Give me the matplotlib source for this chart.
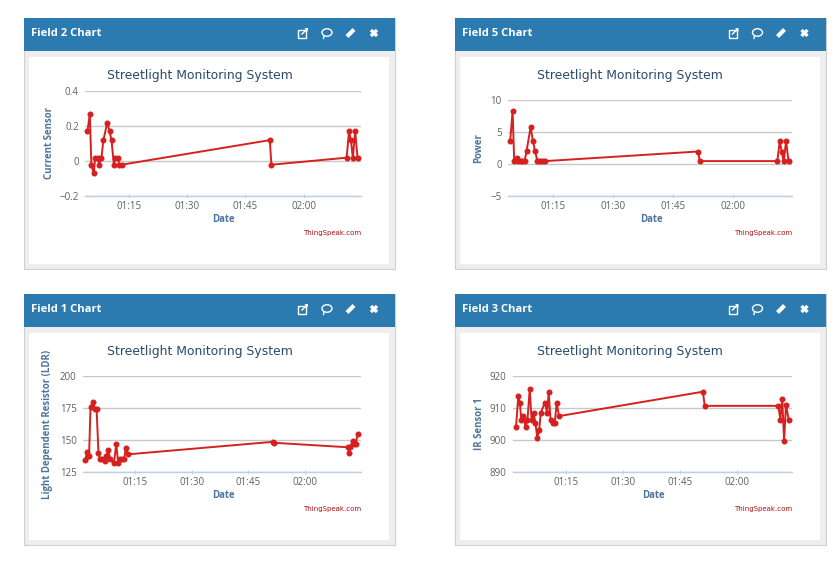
#!/usr/bin/env python3

import matplotlib
matplotlib.use("Agg")
import matplotlib.pyplot as plt
from matplotlib.patches import Rectangle, Ellipse, Polygon

W, H = 840, 564

# minutes after midnight
time_current = [64.3, 64.9, 65.3, 65.9, 66.3, 66.9, 67.3, 67.9, 68.4, 69.4, 70.0, 70.5, 71.1,
                71.5, 72.1, 72.5, 73.1, 111.3, 111.7, 131.1, 131.7, 132.2, 132.7, 133.3, 133.9]
current = [0.17, 0.27, -0.02, -0.07, 0.02, 0.02, -0.02, 0.02, 0.12, 0.22, 0.17, 0.12, -0.02,
           0.02, 0.02, -0.02, -0.02, 0.12, -0.02, 0.02, 0.17, 0.12, 0.02, 0.17, 0.02]
power = [3.6, 8.4, 0.5, 1.0, 0.5, 0.5, 0.5, 0.5, 2.1, 5.8, 3.6, 2.1, 0.5,
         0.5, 0.5, 0.5, 0.5, 2.0, 0.5, 0.5, 3.6, 2.0, 0.5, 3.6, 0.5]

time_ldr = [61.8, 62.3, 62.6, 62.8, 63.2, 63.9, 64.4, 64.8, 65.3, 65.7, 66.3, 66.9, 67.4, 67.9,
            68.4, 69.4, 70.0, 70.5, 71.0, 71.6, 72.1, 72.5, 73.1, 111.4, 111.7, 131.3, 131.6,
            131.9, 132.6, 133.0, 133.4, 133.9]
ldr = [134.9, 141, 138, 138, 176, 179.4, 174, 174, 140, 135, 135, 133.6, 138, 142.7,
       135, 132.5, 147, 132.5, 135, 135, 135, 143.7, 139, 148.7, 148, 144.5, 140,
       144.8, 149, 147, 147, 154.6]

time_ir = [61.9, 62.5, 62.9, 63.3, 63.8, 64.4, 64.9, 65.5, 66.0, 66.5, 67.0, 67.5, 68.0, 68.4,
           69.5, 70.1, 70.5, 71.0, 71.6, 72.1, 72.6, 73.2, 111.1, 111.6, 131.0, 131.5, 132.0,
           132.5, 133.0, 133.7]
ir = [904.2, 913.8, 911.7, 906.2, 907.5, 904.2, 906.2, 916, 906.2, 908.5, 905.3, 900.8, 903.1, 908.5,
      911.7, 908.5, 915, 906.2, 905.3, 905.3, 911.7, 907.5, 915.1, 910.7, 910.7, 906.4, 912.9,
      899.9, 911, 906.4]

time_ticks = [75, 90, 105, 120]
time_labels = ["01:15", "01:30", "01:45", "02:00"]


def axes_box(left, right, top, bottom):
    return [left / W, 1 - bottom / H, (right - left) / W, (bottom - top) / H]


def panel_frame(bg, x0, y0, name):
    # card, blue header, white body, in pixel coordinates
    bg.add_patch(Rectangle((x0, y0), 371, 250.5, fc="#eeeeee", ec="#cfcfcf", lw=0.8))
    bg.add_patch(Rectangle((x0 + 5, y0 + 38.5), 360, 207.5, fc="white", ec="none"))
    bg.add_patch(Rectangle((x0, y0), 371, 33, fc="#2c7bb0", ec="none"))
    bg.text(x0 + 7, y0 + 15.5, name, color="white", fontsize=8.1, fontweight="bold",
            family="Open Sans", ha="left", va="center")

    # header icons
    cy = y0 + 15
    ix = x0 + 278
    bg.add_patch(Rectangle((ix - 4, cy - 3.5), 8, 8, fc="none", ec="white", lw=1))
    bg.add_patch(Polygon([[ix - 1, cy + 1], [ix + 4, cy - 4], [ix + 2, cy - 5], [ix + 6, cy - 5],
                          [ix + 6, cy - 1], [ix + 5, cy - 3], [ix, cy + 2]], fc="white", ec="none"))
    bg.add_patch(Ellipse((x0 + 303, cy - 0.5), 10, 7.5, fc="none", ec="white", lw=1))
    bg.plot([x0 + 300, x0 + 299.5], [cy + 3, cy + 5.5], color="white", lw=1)
    bg.plot([x0 + 323, x0 + 330], [cy + 3.5, cy - 3.5], color="white", lw=3, solid_capstyle="butt")
    bg.plot([x0 + 347, x0 + 353], [cy - 3, cy + 3], color="white", lw=2.4, solid_capstyle="butt")
    bg.plot([x0 + 347, x0 + 353], [cy + 3, cy - 3], color="white", lw=2.4, solid_capstyle="butt")


def draw_chart(fig, bg, box, xlim, ylim, yticks, ylabels, xs, ys, ylabel, label_x, label_y,
               title_x, title_y, date_x, date_y, credit_y):
    ax = fig.add_axes(axes_box(*box))
    ax.patch.set_alpha(0)
    ax.plot(xs, ys, color="#d62020", lw=1.4, marker="o", ms=3.3, mec="#d62020", clip_on=False, zorder=3)
    ax.set_xlim(*xlim)
    ax.set_ylim(*ylim)
    ax.set_xticks(time_ticks, time_labels, family="Open Sans")
    ax.set_yticks(yticks, ylabels, family="Open Sans")
    ax.grid(axis="y", color="#c8c8c8", lw=1)
    ax.set_axisbelow(True)
    for side in ["top", "left", "right"]:
        ax.spines[side].set_visible(False)
    ax.spines["bottom"].set_color("#c0d0e0")
    ax.spines["bottom"].set_linewidth(1)
    ax.tick_params(axis="x", length=3, width=0.8, color="#c0d0e0", labelcolor="#606060",
                   labelsize=7.0, pad=2, direction="inout")
    ax.tick_params(axis="y", length=0, labelcolor="#606060", labelsize=7.0, pad=4.5)

    bg.text(title_x, title_y, "Streetlight Monitoring System", color="#274b6d", fontsize=8.9,
            ha="center", va="center")
    bg.text(label_x, label_y, ylabel, color="#4d759e", fontsize=6.9, fontweight="bold",
            family="Open Sans", rotation=90, ha="center", va="center")
    bg.text(date_x, date_y, "Date", color="#4d759e", fontsize=6.9, fontweight="bold",
            family="Open Sans", ha="center", va="center")
    bg.text(box[1], credit_y, "ThingSpeak.com", color="#b01010", fontsize=5.0,
            ha="right", va="center")


fig = plt.figure(figsize=(W / 100, H / 100), dpi=100, facecolor="white")

bg = fig.add_axes([0, 0, 1, 1])
bg.set_xlim(0, W)
bg.set_ylim(H, 0)
bg.axis("off")

panel_frame(bg, 24, 18, "Field 2 Chart")
panel_frame(bg, 454.5, 18, "Field 5 Chart")
panel_frame(bg, 24, 294, "Field 1 Chart")
panel_frame(bg, 454.5, 294, "Field 3 Chart")

draw_chart(fig, bg, (85, 361, 91, 196.3), (63.66, 134.8), (-0.2, 0.4), [-0.2, 0, 0.2, 0.4],
           ["\u22120.2", "0", "0.2", "0.4"], time_current, current, "Current Sensor", 49, 143,
           199.5, 76, 223, 219.5, 233)
draw_chart(fig, bg, (508, 791.7, 100.3, 196.3), (63.75, 134.7), (-5, 10), [-5, 0, 5, 10],
           ["\u22125", "0", "5", "10"], time_current, power, "Power", 479, 148,
           630, 76, 651, 219.5, 233)
draw_chart(fig, bg, (83, 361, 376, 472.3), (61.2, 134.8), (125, 200), [125, 150, 175, 200],
           ["125", "150", "175", "200"], time_ldr, ldr, "Light Dependent Resistor (LDR)", 48, 424,
           199.5, 352, 223, 495.5, 509)
draw_chart(fig, bg, (513, 791.7, 376, 472.3), (61.1, 134.5), (890, 920), [890, 900, 910, 920],
           ["890", "900", "910", "920"], time_ir, ir, "IR Sensor 1", 480, 424,
           630, 352, 653, 495.5, 509)

fig.savefig("out.png", dpi=100)
